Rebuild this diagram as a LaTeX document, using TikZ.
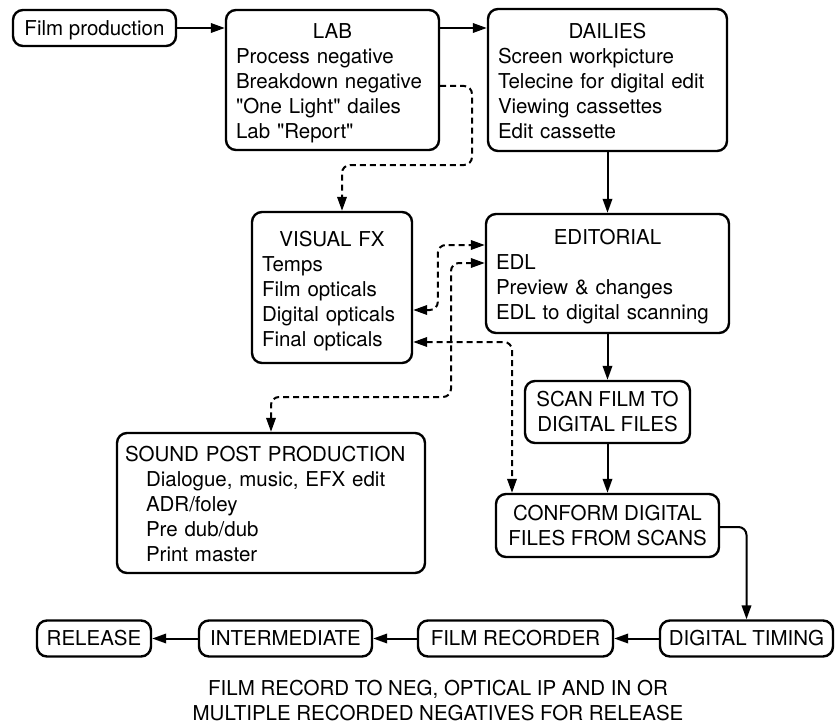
\documentclass[tikz,border=0pt]{standalone}
\usepackage{fontspec}
\setmainfont{TeX Gyre Heros}
\usetikzlibrary{arrows.meta,calc}
\newcommand\ttl[1]{\makebox[\hsize]{#1}}
\newcommand\sq{\textquotedbl}
\begin{document}
\begin{tikzpicture}[x=1pt,y=-1pt,
  every node/.style={font=\fontsize{20.5}{25}\selectfont, inner sep=0pt},
  boxline/.style={draw, line width=2.4pt, rounded corners=10pt},
  onebox/.style={boxline, minimum height=36pt, text height=14.8pt, text depth=0pt},
  twobox/.style={boxline, align=center},
  listbox/.style={boxline, align=left, inner xsep=10pt,
    execute at begin node=\rule{0pt}{22pt},
    execute at end node=\rule[-5pt]{0pt}{5pt}},
  tip/.tip={Triangle[length=14pt,width=9.5pt]},
  flow/.style={line width=2pt, -tip},
  dsh/.style={line width=2pt, dash pattern=on 6pt off 4pt, rounded corners=8pt},
]
\useasboundingbox (0,0) rectangle (836,725);

% top row
\node[onebox, minimum width=163pt] (film) at (94.5,28) {Film production};
\node[listbox, text width=193pt, minimum height=140pt] (lab) at (332.5,80)
  {\ttl{LAB}\\Process negative\\Breakdown negative\\\sq One Light\sq{} dailes\\Lab \sq Report\sq};
\node[listbox, text width=219pt, minimum height=142pt] (dailies) at (607.5,80)
  {\ttl{DAILIES}\\Screen workpicture\\Telecine for digital edit\\Viewing cassettes\\Edit cassette};

% middle
\node[listbox, text width=140pt, minimum height=151pt] (vfx) at (332,287.5)
  {\ttl{VISUAL FX}\\Temps\\Film opticals\\Digital opticals\\Final opticals};
\node[listbox, text width=223pt, minimum height=119pt] (ed) at (607.5,273.5)
  {\ttl{EDITORIAL}\\EDL\\Preview \& changes\\EDL to digital scanning};
\node[twobox, minimum width=165pt, minimum height=62pt] (scan) at (607.5,412)
  {SCAN FILM TO\\DIGITAL FILES};
\node[twobox, minimum width=223pt, minimum height=63pt] (conform) at (607.5,525.5)
  {CONFORM DIGITAL\\FILES FROM SCANS};
\node[listbox, inner xsep=8pt, text width=292pt, minimum height=140pt] (snd) at (271,503)
  {SOUND POST PRODUCTION\\
   \hspace*{21pt}Dialogue, music, EFX edit\\
   \hspace*{21pt}ADR/foley\\
   \hspace*{21pt}Pre dub/dub\\
   \hspace*{21pt}Print master};

% bottom row
\node[onebox, minimum width=173pt] (timing) at (746.5,638.5) {DIGITAL TIMING};
\node[onebox, minimum width=195pt] (rec) at (515.5,638.5) {FILM RECORDER};
\node[onebox, minimum width=173pt] (inter) at (285.5,638.5) {INTERMEDIATE};
\node[onebox, minimum width=114pt] (rel) at (94,638.5) {RELEASE};
\node[align=center] (note) at (438,700.5)
  {FILM RECORD TO NEG, OPTICAL IP AND IN OR\\MULTIPLE RECORDED NEGATIVES FOR RELEASE};

% bend points of the routed connectors
\coordinate (labbend) at (472,165);
\coordinate (sndbend) at (451,397);

% main flow
\draw[flow] (film) -- (film -| lab.west);
\draw[flow] (lab.east |- film) -- (dailies.west |- film);
\draw[flow] (dailies) -- (ed);
\draw[flow] (ed) -- (scan);
\draw[flow] (scan) -- (conform);
\draw[flow, rounded corners=8pt] ($(conform.east)+(0,1.5)$) -| (timing.north);
\draw[flow] (timing) -- (rec);
\draw[flow] (rec) -- (inter);
\draw[flow] (inter) -- (rel);

% dashed exchanges
\draw[dsh, -tip] ($(lab.east)+(0,6)$) -| (labbend) -| ($(vfx.north)+(10,0)$);
\draw[dsh, tip-tip] ($(vfx.east)+(0,22.5)$) -| ($(ed.west)+(-47,-28.5)$) -- ($(ed.west)+(0,-28.5)$);
\draw[dsh, tip-tip] (snd.north) |- (sndbend) |- ($(ed.west)+(0,-10.5)$);
\draw[dsh, tip-tip] ($(vfx.east)+(0,54.5)$) -| ($(conform.north)+(-95.5,0)$);
\end{tikzpicture}
\end{document}
